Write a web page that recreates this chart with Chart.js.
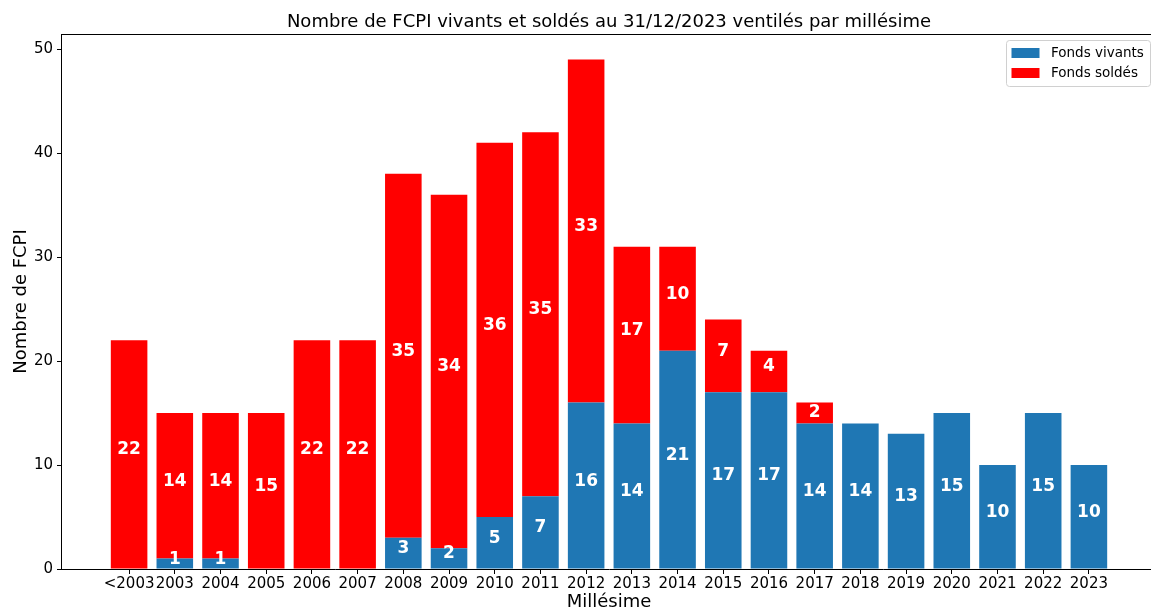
<!DOCTYPE html>
<html><head><meta charset="utf-8">
<script src="https://cdn.jsdelivr.net/npm/chart.js@4"></script>
<style>html,body{margin:0;padding:0;overflow:hidden;background:#fff;}#wrap{width:1160px;height:609px;}</style>
</head><body><div id="wrap"><canvas id="c" width="1160" height="609"></canvas></div>
<script>
const categories = ['<2003','2003','2004','2005','2006','2007','2008','2009','2010','2011','2012','2013','2014','2015','2016','2017','2018','2019','2020','2021','2022','2023'];
const fondsVivants = [0,1,1,0,0,0,3,2,5,7,16,14,21,17,17,14,14,13,15,10,15,10];
const fondsSoldes = [22,14,14,15,22,22,35,34,36,35,33,17,10,7,4,2,0,0,0,0,0,0];
const yTicks = [0,10,20,30,40,50];
const seriesNames = ['Fonds vivants','Fonds soldés'];
const seriesColors = ['#1f77b4','#ff0000'];
const chartTitle = 'Nombre de FCPI vivants et soldés au 31/12/2023 ventilés par millésime';
const xTitle = 'Millésime';
const yTitle = 'Nombre de FCPI';

const FONT = "'DejaVu Sans', sans-serif";

const decorPlugin = {
  id: 'decor',
  afterDatasetsDraw(chart) {
    const ctx = chart.ctx;
    ctx.save();
    ctx.fillStyle = '#fff';
    ctx.font = 'bold 17px ' + FONT;
    ctx.textAlign = 'center';
    ctx.textBaseline = 'alphabetic';
    const capH = 12.4;
    chart.data.datasets.forEach((ds, di) => {
      const meta = chart.getDatasetMeta(di);
      const isTop = di === chart.data.datasets.length - 1;
      meta.data.forEach((el, i) => {
        const v = ds.data[i].y;
        if (!v) return;
        let b = (el.y + el.base) / 2;
        if (isTop && b - capH < el.y + 1.6) b = el.y + 1.6 + capH;
        ctx.fillText(String(v), el.x, b);
      });
    });
    ctx.restore();
  },
  afterDraw(chart) {
    const ctx = chart.ctx;
    const a = chart.chartArea;
    ctx.save();
    ctx.strokeStyle = '#000';
    ctx.lineWidth = 1;
    ctx.beginPath();
    ctx.moveTo(a.left, a.top + 0.5);
    ctx.lineTo(a.right, a.top + 0.5);
    ctx.lineTo(a.right, a.bottom);
    ctx.stroke();
    ctx.fillStyle = '#000';
    ctx.font = '18px ' + FONT;
    ctx.textAlign = 'center';
    ctx.textBaseline = 'alphabetic';
    ctx.fillText(chartTitle, (a.left + a.right) / 2, 27);
    const bw = 144, bh = 46;
    const bx = a.right - 7 - bw, by = a.top + 6.5;
    ctx.beginPath();
    ctx.roundRect(bx + 0.5, by, bw, bh, 3);
    ctx.fillStyle = 'rgba(255,255,255,0.8)';
    ctx.fill();
    ctx.strokeStyle = '#d0d0d0';
    ctx.stroke();
    ctx.font = '13.5px ' + FONT;
    ctx.textAlign = 'left';
    ctx.textBaseline = 'middle';
    seriesNames.forEach((n, i) => {
      const py = by + 7.5 + i * 20;
      ctx.fillStyle = seriesColors[i];
      ctx.fillRect(bx + 5.5, py, 28, 10);
      ctx.fillStyle = '#000';
      ctx.fillText(n, bx + 45, py + 5);
    });
    ctx.restore();
  }
};

const toPts = arr => arr.map((v, i) => ({x: i, y: v}));

new Chart(document.getElementById('c'), {
  type: 'bar',
  data: {
    datasets: [
      {label: seriesNames[0], data: toPts(fondsVivants), backgroundColor: seriesColors[0], borderWidth: 0, categoryPercentage: 1, barPercentage: 0.8},
      {label: seriesNames[1], data: toPts(fondsSoldes), backgroundColor: seriesColors[1], borderWidth: 0, categoryPercentage: 1, barPercentage: 0.8}
    ]
  },
  options: {
    responsive: false,
    animation: false,
    devicePixelRatio: 1,
    layout: {padding: {top: 34, left: 0, right: 3, bottom: 0}},
    plugins: {legend: {display: false}, tooltip: {enabled: false}, title: {display: false}},
    scales: {
      x: {
        type: 'linear',
        stacked: true,
        offset: false,
        min: -1.49,
        max: 22.49,
        afterBuildTicks: s => { s.ticks = categories.map((_, i) => ({value: i})); },
        afterFit: s => { s.height = 40; },
        grid: {display: true, drawOnChartArea: false, drawTicks: true, tickLength: 5, color: '#000', offset: false},
        border: {display: true, color: '#000', width: 1},
        ticks: {font: {family: FONT, size: 15}, color: '#000', padding: 1, autoSkip: false, maxRotation: 0, minRotation: 0,
                callback: v => categories[v]},
        title: {display: true, text: xTitle, font: {family: FONT, size: 18}, color: '#000', padding: {top: 0, bottom: -4}}
      },
      y: {
        type: 'linear',
        stacked: true,
        min: 0,
        max: 51.45,
        afterBuildTicks: s => { s.ticks = yTicks.map(v => ({value: v})); },
        afterFit: s => { s.width = 61; },
        grid: {display: true, drawOnChartArea: false, drawTicks: true, tickLength: 4, color: '#000'},
        border: {display: true, color: '#000', width: 1},
        ticks: {font: {family: FONT, size: 15}, color: '#000', padding: 4},
        title: {display: true, text: yTitle, font: {family: FONT, size: 18}, color: '#000', padding: {top: 11, bottom: 0}}
      }
    }
  },
  plugins: [decorPlugin]
});
</script>
</body></html>
